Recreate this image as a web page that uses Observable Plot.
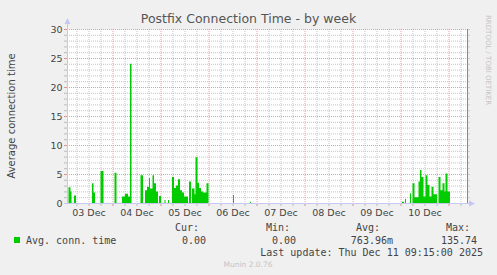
<!DOCTYPE html>
<html><head><meta charset="utf-8">
<script src="https://cdn.jsdelivr.net/npm/d3@7"></script>
<script src="https://cdn.jsdelivr.net/npm/@observablehq/plot@0.6"></script>
<style>
html,body{margin:0;padding:0;background:#f0f0f0;}
#chart{width:497px;height:275px;}
</style></head><body><div id="chart"></div>
<script>
const title = "Postfix Connection Time - by week";
const yLabel = "Average connection time";
const sideText = "RRDTOOL / TOBI OETIKER";
const footer = "Munin 2.0.76";
const lastUpdate = "Last update: Thu Dec 11 09:15:00 2025";
const legendName = "Avg. conn. time";
const statHeaders = ["Cur:", "Min:", "Avg:", "Max:"];
const statValues = ["0.00", "0.00", "763.96m", "135.74"];
const dayLabels = ["03 Dec","04 Dec","05 Dec","06 Dec","07 Dec","08 Dec","09 Dec","10 Dec"];
const dayNoonHours = [12, 36, 60, 84, 108, 132, 156, 180];
const yTicks = [0, 5, 10, 15, 20, 25, 30];
const xDomain = [1.25, 201.25]; // hours since 2025-12-03 00:00

// hours since Dec 3 00:00 where the value changes (step-after)
const hours = [1.25,
  2,3,3.5, 4.75,5.75, 13.75,14.5,15.25, 18,19.5, 25,26,
  28.75,30.25,31.75,32.75,33.5, 38,39.25,
  40.25,41.25,42.25,42.75,44,44.75,45.75,46.75, 47.25,48.25, 50,50.5, 51.75,52.25,
  53.75,54.75,55.75,56.75,57.75,58.75,59.75,61.75,
  62.25,63.25,63.75,65,65.5,66.5,67.25,68.25,69.25,71,72,
  84.25,84.75, 92.75,93.25,
  168.75,169.75, 170.25,170.75, 172.75,173.25,
  174,175,177,177.75,178.5,179.5,180.5,181.5,182.5,183.5,184.5,186.25,
  187,188,189,190,190.5,191.5,192.75,
  201.25];
const values = [0,
  2.7,2.0,0, 1.3,0, 3.4,1.8,0, 5.5,0, 5.2,0,
  1.1,1.6,1.1,24,0, 4.8,0,
  2.2,2.8,4.3,2.5,4.8,3.4,2.0,0, 1.2,0, 0.5,0, 0.5,0,
  4.5,2.6,3.0,4.1,2.2,1.8,1.1,0,
  3.7,0,2.5,1.5,7.9,3.5,2.6,2.0,1.8,3.4,0,
  1.4,0, 0.2,0,
  0.2,0, 0.7,0, 1.7,0,
  3.4,1.0,3.7,5.7,4.5,1.1,4.8,3.1,1.1,2.8,1.5,0,
  4.5,2.2,3.4,2.0,5.1,2.0,0,
  0];

const data = hours.map((h, i) => ({h, v: values[i]}));
const allY = d3.range(0, 31);
const minorY = allY.filter(v => v % 5 !== 0);
const majorY = yTicks.filter(v => v > 0);
const allX = d3.range(6, 201, 6);
const minorX = allX.filter(h => h % 24 !== 0);
const majorX = allX.filter(h => h % 24 === 0);

const grid = "#c4c4c4", mgrid = "#e0a0a0";

const chart = Plot.plot({
  width: 497, height: 275,
  marginLeft: 67, marginRight: 30, marginTop: 29, marginBottom: 72,
  style: {background: "transparent", fontFamily: "DejaVu Sans", fontSize: "9.5px", color: "#444", overflow: "visible"},
  x: {domain: xDomain, axis: null, label: null},
  y: {domain: [0, 30], axis: null, label: null},
  marks: [
    Plot.frame({fill: "white", stroke: null}),
    Plot.ruleY(minorY, {stroke: grid, strokeDasharray: "1,1"}),
    Plot.ruleX(minorX, {stroke: grid, strokeDasharray: "1,1"}),
    Plot.ruleY(majorY, {stroke: mgrid, strokeDasharray: "1,1"}),
    Plot.ruleX(majorX, {stroke: mgrid, strokeDasharray: "1,1"}),
    Plot.areaY(data, {x: "h", y: "v", curve: "step-after", fill: "#00cc00"}),
    Plot.axisY(minorY, {tickSize: 3, tickFormat: () => "", stroke: "#bbbbbb", label: null}),
    Plot.axisY(yTicks, {tickSize: 3, tickFormat: () => "", stroke: "#e09090", label: null}),
    Plot.axisY(yTicks, {tickSize: 0, tickPadding: 5, fill: "#444", label: null}),
    Plot.axisY(allY, {anchor: "right", tickSize: 2, tickFormat: () => "", stroke: "#cccccc", label: null}),
    Plot.axisX(minorX, {tickSize: 3, tickFormat: () => "", stroke: "#bbbbbb", label: null}),
    Plot.axisX(majorX, {tickSize: 3, tickFormat: () => "", stroke: "#e09090", label: null}),
    Plot.axisX(dayNoonHours, {tickSize: 0, tickPadding: 6, tickFormat: (d, i) => dayLabels[i], fill: "#444", label: null}),
    Plot.ruleX([xDomain[1]], {stroke: "#888", strokeWidth: 1})
  ]
});

document.getElementById("chart").appendChild(chart);
const svg = d3.select(chart);
const axisC = "#c6c6f4";
svg.append("line").attr("x1", 67.5).attr("x2", 67.5).attr("y1", 203).attr("y2", 22).attr("stroke", axisC);
svg.append("path").attr("d", "M64.5,24 L67.5,18 L70.5,24 Z").attr("fill", axisC);
svg.append("line").attr("x1", 64).attr("x2", 471).attr("y1", 203.5).attr("y2", 203.5).attr("stroke", axisC);
svg.append("path").attr("d", "M469,200.5 L475,203.5 L469,206.5 Z").attr("fill", axisC);

function txt(x, y, s, opts = {}) {
  return svg.append("text").attr("x", x).attr("y", y)
    .attr("text-anchor", opts.anchor || "start")
    .style("font-family", opts.font || "'DejaVu Sans'")
    .style("font-size", (opts.size || 10) + "px")
    .attr("fill", opts.fill || "#444")
    .attr("transform", opts.transform || null)
    .text(s);
}
txt(248.5, 23, title, {anchor: "middle", size: 12.5, fill: "#555"});
txt(0, 0, yLabel, {anchor: "middle", size: 10, transform: "translate(15,116) rotate(-90)"});
txt(0, 0, sideText, {anchor: "start", size: 7, fill: "#c4c4c4", transform: "translate(486,15) rotate(90)"});

const mono = "'DejaVu Sans Mono', monospace";
svg.append("rect").attr("x", 14).attr("y", 237).attr("width", 6).attr("height", 6).attr("fill", "#00cc00");
txt(26, 243.5, legendName, {font: mono});
const headerRight = [199, 290, 380, 470];
const valueRight = [206, 296, 393, 477];
statHeaders.forEach((t, i) => {
  txt(headerRight[i], 231, t, {anchor: "end", font: mono});
  txt(valueRight[i], 243.5, statValues[i], {anchor: "end", font: mono});
});
txt(483, 255.5, lastUpdate, {anchor: "end", font: mono});
txt(248, 267, footer, {anchor: "middle", size: 7.5, fill: "#c4c4c4"});
</script></body></html>
